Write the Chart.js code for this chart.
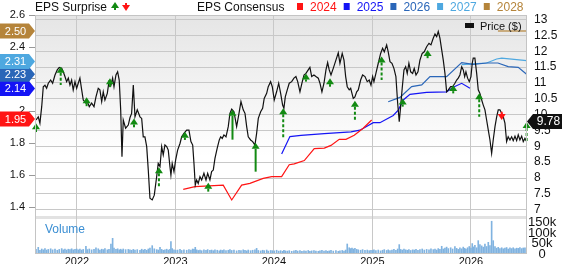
<!DOCTYPE html>
<html>
<head>
<meta charset="utf-8">
<script src="https://cdn.jsdelivr.net/npm/chart.js@4"></script>
<style>
  html, body { margin: 0; padding: 0; background: #fff; }
</style>
</head>
<body>
<canvas id="myChart" width="562" height="264"></canvas>
<script>
// weekly closing price, dates as decimal years
const priceDates = [
  2021.584, 2021.607, 2021.624, 2021.642, 2021.658, 2021.675, 2021.692, 2021.709, 2021.733, 2021.753,
  2021.777, 2021.800, 2021.820, 2021.845, 2021.861, 2021.878, 2021.895, 2021.912, 2021.929, 2021.946,
  2021.962, 2021.980, 2021.997, 2022.013, 2022.030, 2022.048, 2022.064, 2022.091, 2022.105, 2022.125,
  2022.149, 2022.173, 2022.193, 2022.216, 2022.233, 2022.251, 2022.267, 2022.284, 2022.308, 2022.325,
  2022.345, 2022.362, 2022.376, 2022.396, 2022.413, 2022.429, 2022.444, 2022.457, 2022.470, 2022.494,
  2022.521, 2022.538, 2022.555, 2022.572, 2022.589, 2022.612, 2022.640, 2022.657, 2022.673, 2022.690,
  2022.708, 2022.724, 2022.741, 2022.764, 2022.785, 2022.809, 2022.825, 2022.843, 2022.860, 2022.876,
  2022.893, 2022.911, 2022.927, 2022.944, 2022.954, 2022.967, 2022.985, 2023.002, 2023.022, 2023.046,
  2023.063, 2023.086, 2023.114, 2023.137, 2023.157, 2023.175, 2023.188, 2023.201, 2023.215, 2023.231,
  2023.249, 2023.266, 2023.289, 2023.310, 2023.327, 2023.350, 2023.367, 2023.384, 2023.401, 2023.424,
  2023.445, 2023.459, 2023.475, 2023.492, 2023.513, 2023.536, 2023.553, 2023.571, 2023.594, 2023.621,
  2023.645, 2023.665, 2023.688, 2023.706, 2023.723, 2023.739, 2023.763, 2023.784, 2023.807, 2023.824,
  2023.841, 2023.865, 2023.885, 2023.901, 2023.926, 2023.942, 2023.966, 2023.983, 2024.003, 2024.027,
  2024.048, 2024.068, 2024.088, 2024.101, 2024.115, 2024.135, 2024.155, 2024.180, 2024.203, 2024.223,
  2024.241, 2024.264, 2024.284, 2024.305, 2024.325, 2024.348, 2024.365, 2024.383, 2024.406, 2024.426,
  2024.450, 2024.467, 2024.487, 2024.508, 2024.528, 2024.545, 2024.561, 2024.579, 2024.602, 2024.629,
  2024.653, 2024.670, 2024.693, 2024.711, 2024.728, 2024.744, 2024.764, 2024.779, 2024.792, 2024.805,
  2024.822, 2024.840, 2024.856, 2024.880, 2024.900, 2024.924, 2024.947, 2024.967, 2024.985, 2025.002,
  2025.015, 2025.035, 2025.059, 2025.083, 2025.103, 2025.120, 2025.144, 2025.160, 2025.178, 2025.198,
  2025.218, 2025.238, 2025.256, 2025.272, 2025.286, 2025.302, 2025.320, 2025.337, 2025.353, 2025.370,
  2025.388, 2025.408, 2025.424, 2025.442, 2025.462, 2025.482, 2025.505, 2025.526, 2025.550, 2025.574,
  2025.594, 2025.617, 2025.635, 2025.652, 2025.668, 2025.685, 2025.703, 2025.719, 2025.736, 2025.753,
  2025.770, 2025.794, 2025.814, 2025.837, 2025.855, 2025.871, 2025.888, 2025.906, 2025.922, 2025.936,
  2025.949, 2025.966, 2025.983, 2026.000, 2026.013, 2026.023, 2026.040, 2026.058, 2026.074, 2026.091,
  2026.109, 2026.125, 2026.142, 2026.159, 2026.176, 2026.193, 2026.210, 2026.226, 2026.244, 2026.261,
  2026.277, 2026.294, 2026.312, 2026.328, 2026.345, 2026.362, 2026.378, 2026.396, 2026.413, 2026.429,
  2026.447, 2026.464, 2026.480, 2026.497, 2026.515, 2026.531, 2026.548, 2026.565
];
const priceValues = [
  9.83, 9.93, 9.73, 10.25, 10.88, 10.93, 10.83, 10.99, 11.09, 10.99,
  11.25, 11.41, 11.49, 11.46, 11.35, 11.2, 11.04, 11.15, 10.93, 11.09,
  10.78, 11.04, 10.83, 10.99, 11.15, 10.78, 10.46, 10.36, 10.41, 10.25,
  10.36, 10.25, 10.56, 10.83, 10.78, 10.41, 10.72, 10.46, 10.67, 11.04,
  10.93, 11.15, 10.88, 11.25, 11.35, 11.09, 10.15, 8.67, 9.83, 9.57,
  9.67, 9.9, 10.04, 10.93, 9.93, 10.15, 9.93, 9.88, 9.3, 9.3,
  8.99, 8.25, 7.36, 7.31, 7.46, 8.04, 8.46, 8.36, 8.99, 8.73,
  9.04, 8.99, 8.88, 8.36, 8.09, 8.46, 8.2, 8.57, 8.88, 9.09,
  9.3, 9.41, 9.51, 9.51, 9.15, 9.04, 8.46, 7.78, 7.94, 7.83,
  8.04, 7.94, 8.15, 7.94, 8.15, 7.94, 8.2, 8.25, 8.62, 8.94,
  9.2, 9.3, 9.25, 9.36, 9.3, 9.62, 10.04, 10.17, 10.09, 9.62,
  10.04, 10.41, 10.15, 10.04, 9.62, 9.3, 9.2, 9.15, 9.04, 9.41,
  9.88, 10.09, 10.2, 10.51, 10.67, 10.88, 11.04, 10.88, 10.46, 10.72,
  10.99, 10.67, 10.3, 10.2, 10.56, 10.78, 10.99, 11.04, 11.15, 11.2,
  11.04, 10.72, 10.99, 11.25, 11.3, 11.41, 11.49, 11.2, 11.25, 11.2,
  11.15, 10.99, 10.72, 10.99, 11.41, 11.64, 11.41, 11.25, 11.46, 11.72,
  11.95, 11.62, 11.93, 11.72, 11.2, 10.88, 10.78, 10.83, 10.67, 10.51,
  10.56, 10.72, 10.78, 11.09, 11.25, 11.2, 11.04, 11.09, 10.93, 11.2,
  11.04, 11.3, 11.62, 11.93, 12.09, 11.98, 12.2, 11.98, 11.67, 11.62,
  11.46, 11.2, 10.36, 9.78, 10.25, 10.83, 11.41, 11.51, 11.3, 11.62,
  11.35, 11.3, 11.46, 11.25, 11.35, 11.72, 11.93, 11.98, 12.14, 12.25,
  12.2, 12.41, 12.54, 12.46, 12.62, 12.41, 12.04, 11.72, 11.3, 10.72,
  10.78, 10.88, 10.88, 10.99, 11.09, 11.15, 11.25, 11.51, 11.41, 11.2,
  11.35, 11.15, 11.04, 11.2, 11.62, 11.78, 11.78, 11.3, 10.78, 10.67,
  10.46, 10.3, 10.15, 9.83, 9.51, 9.2, 8.78, 9.2, 9.62, 9.93,
  10.15, 10.15, 10.04, 9.93, 9.73, 9.15, 9.3, 9.2, 9.3, 9.18,
  9.32, 9.18, 9.36, 9.2, 9.32, 9.15, 9.25, 9.15
];
// weekly volume in thousands, same dates as the price
const volumeK = [
  22, 32, 18, 24, 20, 26, 19, 22, 25, 20,
  24, 18, 22, 26, 20, 24, 19, 23, 21, 25,
  20, 22, 24, 20, 23, 19, 22, 37, 21, 24,
  20, 22, 30, 25, 19, 23, 21, 26, 20, 22,
  48, 75, 28, 22, 25, 20, 23, 19, 24, 21,
  22, 20, 18, 22, 19, 21, 17, 23, 19, 22,
  18, 24, 28, 40, 25, 21, 19, 32, 22, 18,
  20, 23, 19, 22, 60, 26, 20, 18, 19, 22,
  17, 20, 18, 21, 19, 24, 22, 32, 20, 17,
  19, 16, 20, 18, 21, 17, 19, 16, 20, 18,
  15, 19, 17, 20, 16, 18, 21, 17, 19, 15,
  18, 16, 20, 17, 15, 19, 16, 18, 20, 27,
  17, 15, 18, 16, 19, 14, 17, 16, 15, 18,
  14, 16, 13, 17, 15, 14, 16, 13, 15, 17,
  14, 16, 13, 15, 14, 17, 13, 15, 16, 14,
  13, 15, 17, 14, 16, 13, 15, 18, 14, 16,
  13, 15, 17, 14, 19, 48, 30, 26, 28, 24,
  27, 22, 20, 18, 21, 17, 19, 16, 18, 17,
  20, 16, 19, 15, 18, 21, 17, 20, 16, 19,
  22, 18, 24, 45, 22, 19, 23, 20, 18, 21,
  17, 20, 19, 22, 18, 21, 24, 19, 22, 20,
  25, 21, 23, 19, 26, 22, 37, 24, 28, 33,
  26, 30, 24, 35, 27, 22, 29, 25, 33, 27,
  24, 30, 36, 28, 50, 34, 42, 30, 64, 45,
  39, 33, 48, 36, 56, 40, 157, 64, 35, 28,
  32, 26, 30, 25, 28, 31, 24, 29, 26, 30,
  25, 28, 27, 31, 26, 29, 30, 28
];

// EPS consensus by fiscal year
const cons2024Dates = [2023.079, 2023.198, 2023.485, 2023.571, 2023.672, 2023.756, 2023.891, 2023.977, 2024.078, 2024.155,
  2024.206, 2024.308, 2024.409, 2024.511, 2024.579, 2024.663, 2024.731, 2024.815, 2024.906, 2024.992];
const cons2024 = [1.51, 1.527, 1.537, 1.444, 1.537, 1.548, 1.579, 1.59, 1.59, 1.664,
  1.67, 1.69, 1.765, 1.768, 1.785, 1.823, 1.823, 1.848, 1.892, 1.944];
const cons2025Dates = [2024.078, 2024.162, 2024.274, 2024.511, 2024.782, 2024.873, 2025.008, 2025.076, 2025.211,
  2025.262, 2025.313, 2025.381, 2025.55, 2025.753, 2025.82, 2025.906, 2025.99];
const cons2025 = [1.731, 1.84, 1.848, 1.858, 1.869, 1.88, 1.927, 1.927, 1.972,
  2.006, 2.069, 2.104, 2.117, 2.12, 2.148, 2.173, 2.142];
const cons2026Dates = [2025.16, 2025.279, 2025.398, 2025.5, 2025.584, 2025.753, 2025.906, 2026.023, 2026.159,
  2026.274, 2026.378, 2026.48, 2026.565];
const cons2026 = [2.058, 2.085, 2.152, 2.163, 2.215, 2.215, 2.302, 2.292, 2.30, 2.30, 2.277, 2.273, 2.23];
const cons2027Dates = [2025.906, 2026.023, 2026.159, 2026.261, 2026.312, 2026.565];
const cons2027 = [2.29, 2.295, 2.30, 2.325, 2.33, 2.315];
const cons2028Dates = [2026.274, 2026.565];
const cons2028 = [2.50, 2.50];

const consensusYears = ['2024', '2025', '2026', '2027', '2028'];
const consensusLatest = [1.95, 2.14, 2.23, 2.31, 2.50];
const lastPrice = 9.78;

// EPS surprise arrows: date, arrow tip price, arrow base price
const surpriseDates = [2021.584, 2021.835, 2022.098, 2022.335, 2022.579, 2022.832, 2023.096, 2023.333, 2023.579, 2023.814,
  2024.094, 2024.325, 2024.569, 2024.822, 2025.093, 2025.307, 2025.56, 2025.82, 2026.084, 2026.312, 2026.565];
const surpriseTip = [9.73, 11.51, 10.55, 11.15, 9.88, 8.34, 9.46, 7.85, 10.15, 9.11,
  10.2, 11.3, 11.15, 10.44, 11.83, 10.51, 12.04, 10.93, 10.67, 9.83, 9.77];
const surpriseBase = [9.45, 10.93, 10.25, 10.83, 9.6, 7.73, 9.2, 7.57, 9.21, 8.2,
  9.27, 11.04, 10.88, 9.83, 11.09, 10.25, 11.78, 10.67, 9.93, 10.09, 9.15];
const surpriseBeat = [true, true, true, true, true, true, true, true, true, true,
  true, true, true, true, true, true, true, true, true, false, true];
const surpriseSolid = [false, false, false, false, false, false, false, false, true, true,
  false, false, false, false, false, false, false, false, false, false, false];

const yearTicks = [2022, 2023, 2024, 2025, 2026];
const epsTicks = [1.4, 1.6, 1.8, 2, 2.2, 2.4, 2.6];
const priceTicks = [7, 7.5, 8, 8.5, 9, 9.5, 10, 10.5, 11, 11.5, 12, 12.5, 13];
const volumeTicks = [0, 50, 100, 150];

const fam = "'Liberation Sans', Arial, Helvetica, sans-serif";
Chart.defaults.font.family = fam;

const consColors = ['#ff1414', '#1414f5', '#2a66b8', '#4ea8e0', '#b5843a'];
const green = '#128a12';
const red = '#ff1414';

const xy = (xs, ys) => xs.map((x, i) => ({ x: x, y: ys[i] }));
const consDates = [cons2024Dates, cons2025Dates, cons2026Dates, cons2027Dates, cons2028Dates];
const consValues = [cons2024, cons2025, cons2026, cons2027, cons2028];

const datasets = [
  {
    type: 'line', label: 'Price', yAxisID: 'yPrice',
    data: xy(priceDates, priceValues),
    borderColor: '#111', borderWidth: 1.2, pointRadius: 0, tension: 0
  }
];
consensusYears.forEach((yr, i) => {
  datasets.push({
    type: 'line', label: yr, yAxisID: 'yEps',
    data: xy(consDates[i], consValues[i]),
    borderColor: consColors[i], borderWidth: 1.2, pointRadius: 0, tension: 0
  });
});
datasets.push({
  type: 'bar', label: 'Volume', yAxisID: 'yVol',
  data: xy(priceDates, volumeK),
  backgroundColor: '#80b3e0', barThickness: 1
});

function arrow(ctx, x, tipY, baseY, up, color, solid) {
  const head = 6, hw = 4;
  ctx.save();
  ctx.fillStyle = color;
  ctx.strokeStyle = color;
  ctx.beginPath();
  if (up) {
    ctx.moveTo(x, tipY); ctx.lineTo(x - hw, tipY + head); ctx.lineTo(x + hw, tipY + head);
  } else {
    ctx.moveTo(x, tipY); ctx.lineTo(x - hw, tipY - head); ctx.lineTo(x + hw, tipY - head);
  }
  ctx.closePath();
  ctx.fill();
  const s0 = up ? tipY + head : baseY;
  const s1 = up ? baseY : tipY - head;
  if (s1 > s0) {
    ctx.lineWidth = 2;
    if (!solid) ctx.setLineDash([3, 2]);
    ctx.beginPath();
    ctx.moveTo(x, s0); ctx.lineTo(x, s1);
    ctx.stroke();
  }
  ctx.restore();
}

// keep tick label overhang from shrinking the plot
const noPad = (s) => { s.paddingTop = 0; s.paddingBottom = 0; s.paddingLeft = 0; s.paddingRight = 0; };

const decor = {
  id: 'decor',
  beforeDraw(chart) {
    const { ctx, chartArea: a, scales } = chart;
    const pb = scales.yPrice.bottom;
    const g = ctx.createLinearGradient(0, a.top, 0, pb);
    g.addColorStop(0, '#e5e5e5');
    g.addColorStop(0.7, '#ffffff');
    ctx.save();
    ctx.fillStyle = g;
    ctx.fillRect(a.left, a.top, a.right - a.left, pb - a.top);
    ctx.fillStyle = '#e2e2e2';
    ctx.fillRect(a.left, pb - 1, a.right - a.left, 3);
    ctx.restore();
  },
  afterDatasetsDraw(chart) {
    const { ctx, scales } = chart;
    surpriseDates.forEach((d, i) => {
      const x = scales.x.getPixelForValue(d);
      const t = scales.yPrice.getPixelForValue(surpriseTip[i]);
      const b = scales.yPrice.getPixelForValue(surpriseBase[i]);
      arrow(ctx, x, t, b, surpriseBeat[i], surpriseBeat[i] ? green : red, surpriseSolid[i]);
    });
  },
  afterDraw(chart) {
    const { ctx, chartArea: a, scales } = chart;
    ctx.save();
    // frame
    ctx.strokeStyle = '#c4c4c4';
    ctx.lineWidth = 1;
    ctx.strokeRect(a.left + 0.5, a.top + 0.5, a.right - a.left - 1, a.bottom - a.top - 1);

    // consensus tags on the left
    ctx.font = '11px ' + fam;
    ctx.textAlign = 'center';
    ctx.textBaseline = 'middle';
    consensusLatest.forEach((v, i) => {
      const y = scales.yEps.getPixelForValue(v);
      ctx.fillStyle = consColors[i];
      ctx.beginPath();
      ctx.moveTo(0, y - 7.5); ctx.lineTo(a.left - 6, y - 7.5); ctx.lineTo(a.left, y);
      ctx.lineTo(a.left - 6, y + 7.5); ctx.lineTo(0, y + 7.5);
      ctx.closePath(); ctx.fill();
      ctx.fillStyle = '#fff';
      ctx.fillText(v.toFixed(2), (a.left - 6) / 2 + 1, y + 0.5);
    });

    // last price tag on the right
    const py = scales.yPrice.getPixelForValue(lastPrice);
    ctx.fillStyle = '#111';
    ctx.beginPath();
    ctx.moveTo(a.right, py); ctx.lineTo(a.right + 6, py - 7.5); ctx.lineTo(chart.width, py - 7.5);
    ctx.lineTo(chart.width, py + 7.5); ctx.lineTo(a.right + 6, py + 7.5);
    ctx.closePath(); ctx.fill();
    ctx.fillStyle = '#fff';
    ctx.font = '12px ' + fam;
    ctx.fillText(lastPrice.toFixed(2), (a.right + 6 + chart.width) / 2 + 1, py + 0.5);

    // header: EPS Surprise
    ctx.textAlign = 'left';
    ctx.textBaseline = 'alphabetic';
    ctx.fillStyle = '#111';
    ctx.font = '12px ' + fam;
    ctx.fillText('EPS Surprise', a.left, 11);
    const hx = a.left + ctx.measureText('EPS Surprise').width + 4;
    arrow(ctx, hx + 4, 2, 10, true, green, true);
    arrow(ctx, hx + 15, 11, 3, false, red, true);

    // header: EPS Consensus legend
    ctx.fillStyle = '#111';
    ctx.fillText('EPS Consensus', 197, 11);
    let lx = 297;
    consensusYears.forEach((yr, i) => {
      ctx.fillStyle = consColors[i];
      ctx.fillRect(lx, 3, 6, 7);
      ctx.fillText(yr, lx + 13, 11);
      lx += 13 + ctx.measureText(yr).width + 7;
    });

    // price legend inside plot
    ctx.fillStyle = '#111';
    ctx.fillRect(a.right - 62, a.top + 8, 9, 5);
    ctx.font = '11px ' + fam;
    ctx.fillText('Price ($)', a.right - 47, a.top + 15);

    // volume label
    ctx.fillStyle = '#3a8ed3';
    ctx.font = '12px ' + fam;
    ctx.fillText('Volume', a.left + 10, scales.yVol.top + 16);
    ctx.restore();
  }
};

const ctx = document.getElementById('myChart');
new Chart(ctx, {
  type: 'line',
  data: { datasets: datasets },
  options: {
    responsive: false,
    animation: false,
    devicePixelRatio: 1,
    layout: { padding: { top: 15, left: 0, right: 0, bottom: 0 } },
    plugins: { legend: { display: false }, tooltip: { enabled: false } },
    scales: {
      x: {
        type: 'linear',
        offset: false,
        min: 2021.574,
        max: 2026.569,
        afterBuildTicks: (s) => { s.ticks = yearTicks.map(v => ({ value: v })); },
        afterFit: (s) => { s.height = 10; noPad(s); },
        ticks: { color: '#111', font: { size: 11 }, padding: 1, maxRotation: 0, autoSkip: false, callback: (v) => String(v) },
        grid: { color: '#c8c8c8', drawTicks: false, offset: false },
        border: { display: false }
      },
      yEps: {
        position: 'left',
        min: 1.10625,
        max: 2.6,
        afterBuildTicks: (s) => { s.ticks = epsTicks.map(v => ({ value: v })); },
        afterFit: (s) => { s.width = 35; noPad(s); },
        ticks: { color: '#111', font: { size: 11 }, padding: 4, autoSkip: false,
          callback: (v) => (v === 2 ? '2' : v.toFixed(1)) },
        grid: { drawOnChartArea: false, drawTicks: true, tickLength: 6, color: '#999' },
        border: { display: false }
      },
      yPrice: {
        position: 'right',
        stack: 'right',
        stackWeight: 202,
        min: 6.770,
        max: 13.142,
        afterBuildTicks: (s) => { s.ticks = priceTicks.map(v => ({ value: v })); },
        afterFit: (s) => { s.width = 35; noPad(s); },
        ticks: { color: '#111', font: { size: 12 }, padding: 7, autoSkip: false,
          callback: (v) => (Number.isInteger(v) ? String(v) : v.toFixed(1)) },
        grid: { color: '#c8c8c8', drawTicks: false },
        border: { display: false }
      },
      yVol: {
        position: 'right',
        stack: 'right',
        stackWeight: 37,
        min: 0,
        max: 177.4,
        afterBuildTicks: (s) => { s.ticks = volumeTicks.map(v => ({ value: v })); },
        afterFit: (s) => { s.width = 35; noPad(s); },
        ticks: { color: '#111', font: { size: 13 }, padding: 1, crossAlign: 'center', autoSkip: false,
          callback: (v) => (v === 0 ? '0' : v + 'k') },
        grid: { display: false, drawTicks: false },
        border: { display: false }
      }
    }
  },
  plugins: [decor]
});
</script>
</body>
</html>
